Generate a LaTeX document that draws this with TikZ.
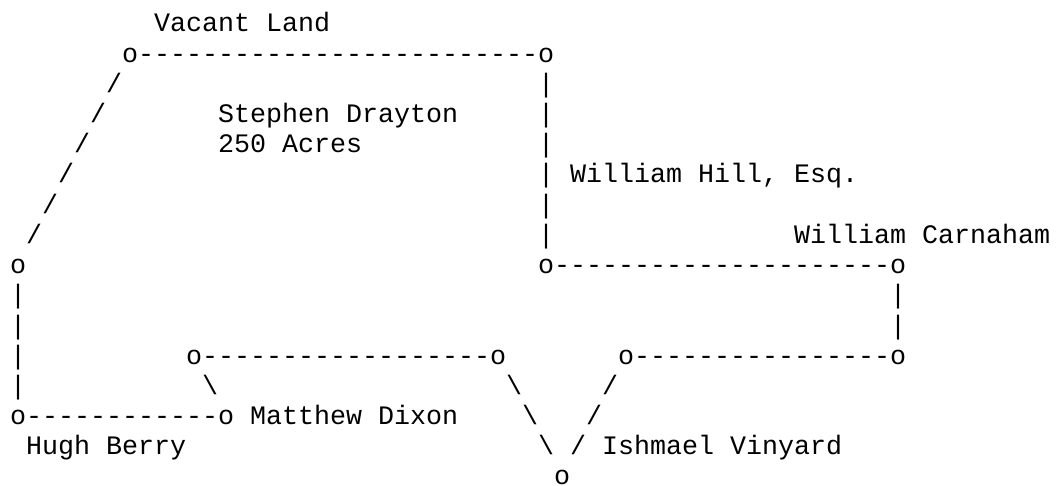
\documentclass[tikz,border=0pt]{standalone}
\usepackage{fontspec}
\setmonofont{Liberation Mono}
\tikzset{ascii/.style={inner sep=0pt,outer sep=0pt,anchor=base west,font=\fontsize{26.67pt}{30pt}\ttfamily,text=black}}
% #1 name, #2 column, #3 baseline y (px from the top), #4 text
\newcommand{\asc}[4]{\node[ascii] (#1) at ({10+16*#2 pt},{(485-#3)*1pt}) {#4};}
\begin{document}
\begin{tikzpicture}[x=1pt,y=1pt]
\useasboundingbox (0pt,0pt) rectangle (1059pt,485pt);
\fill[white] (0pt,0pt) rectangle (1059pt,485pt);
\asc{vacant}{9}{32}{Vacant Land}
\asc{topline}{7}{62.2}{o-------------------------o}
\asc{sa}{6}{92.4}{/}
\asc{va}{33}{92.4}{|}
\asc{sb}{5}{122.6}{/}
\asc{drayton}{13}{122.6}{Stephen Drayton}
\asc{vb}{33}{122.6}{|}
\asc{sc}{4}{152.8}{/}
\asc{acres}{13}{152.8}{250 Acres}
\asc{vc}{33}{152.8}{|}
\asc{sd}{3}{183}{/}
\asc{hill}{33}{183}{| William Hill, Esq.}
\asc{se}{2}{213.2}{/}
\asc{vd}{33}{213.2}{|}
\asc{sf}{1}{243.4}{/}
\asc{ve}{33}{243.4}{|}
\asc{carnaham}{49}{243.4}{William Carnaham}
\asc{leftc}{0}{273.6}{o}
\asc{midline}{33}{273.6}{o---------------------o}
\asc{la}{0}{303.8}{|}
\asc{ra}{55}{303.8}{|}
\asc{lb}{0}{334}{|}
\asc{rb}{55}{334}{|}
\asc{lc}{0}{364.2}{|}
\asc{dixonline}{11}{364.2}{o------------------o}
\asc{vinyardline}{38}{364.2}{o----------------o}
\asc{ld}{0}{394.4}{|}
\asc{ba}{12}{394.4}{\textbackslash}
\asc{bb}{31}{394.4}{\textbackslash}
\asc{fa}{37}{394.4}{/}
\asc{botline}{0}{424.6}{o------------o Matthew Dixon}
\asc{bc}{32}{424.6}{\textbackslash}
\asc{fb}{36}{424.6}{/}
\asc{berry}{1}{454.8}{Hugh Berry}
\asc{bd}{33}{454.8}{\textbackslash}
\asc{ishmael}{35}{454.8}{/ Ishmael Vinyard}
\asc{tip}{34}{484}{o}
\end{tikzpicture}
\end{document}
